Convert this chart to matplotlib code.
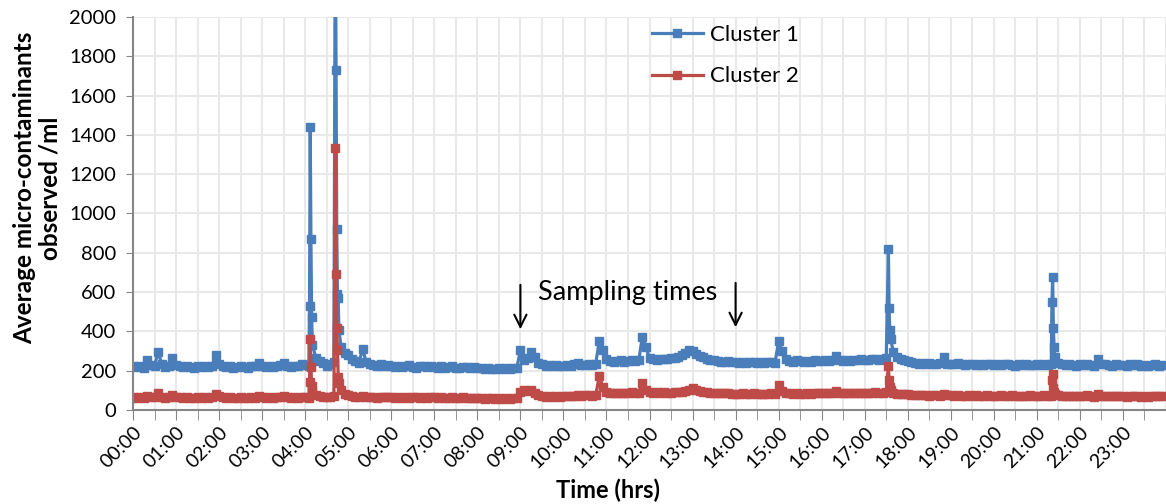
import matplotlib
matplotlib.use('Agg')
import matplotlib.pyplot as plt
from matplotlib.ticker import MultipleLocator, FixedLocator
import numpy as np

plt.rcParams['font.family'] = ['Lato', 'DejaVu Sans']

# 5-minute readings, one row per hour (00:00, 00:05, ... 00:55)
cluster1_rows = [
    [222, 218, 226, 215, 254, 228, 224, 297, 232, 220, 224, 263],
    [230, 222, 218, 225, 220, 216, 222, 219, 224, 218, 226, 280],
    [236, 222, 218, 224, 216, 221, 226, 219, 215, 222, 224, 238],
    [226, 219, 222, 218, 224, 229, 240, 222, 218, 224, 226, 232],
    [230, 225, 330, 265, 250, 240, 225, 232, 245, 590, 322, 290],
    [280, 262, 250, 240, 312, 244, 236, 228, 226, 232, 224, 228],
    [224, 220, 226, 218, 222, 228, 220, 216, 224, 222, 218, 225],
    [220, 216, 222, 214, 219, 224, 216, 212, 218, 221, 215, 217],
    [212, 216, 209, 214, 211, 207, 213, 210, 215, 208, 212, 214],
    [305, 254, 265, 297, 272, 240, 232, 226, 230, 224, 228, 222],
    [226, 230, 224, 232, 238, 228, 231, 235, 229, 236, 353, 305],
    [258, 250, 246, 248, 252, 246, 250, 254, 248, 252, 373, 319],
    [264, 258, 256, 260, 262, 258, 264, 266, 272, 280, 292, 306],
    [298, 286, 276, 268, 262, 256, 252, 250, 246, 244, 248, 242],
    [245, 240, 244, 238, 242, 246, 240, 244, 238, 242, 246, 240],
    [352, 298, 262, 250, 246, 252, 248, 244, 250, 246, 252, 248],
    [250, 254, 248, 252, 275, 252, 248, 254, 250, 256, 252, 258],
    [256, 252, 258, 262, 254, 260, 264, 407, 297, 268, 262, 256],
    [248, 242, 240, 236, 238, 234, 240, 236, 232, 238, 268, 236],
    [236, 232, 238, 234, 230, 236, 232, 228, 234, 230, 236, 232],
    [230, 234, 228, 232, 236, 230, 226, 232, 228, 234, 230, 228],
    [232, 228, 234, 230, 236, 271, 240, 232, 228, 234, 230, 226],
    [232, 228, 234, 230, 226, 262, 236, 232, 230, 226, 232, 228],
    [230, 226, 232, 228, 234, 226, 230, 224, 228, 232, 226, 230],
]
cluster2_rows = [
    [65, 62, 68, 60, 70, 66, 64, 85, 68, 63, 66, 75],
    [68, 64, 62, 66, 63, 60, 65, 62, 67, 61, 64, 81],
    [70, 64, 61, 66, 60, 63, 67, 62, 59, 64, 63, 70],
    [66, 62, 64, 61, 65, 67, 72, 64, 61, 66, 63, 68],
    [66, 62, 95, 78, 70, 66, 64, 68, 70, 305, 102, 80],
    [76, 70, 68, 66, 72, 67, 64, 66, 63, 68, 65, 64],
    [66, 62, 68, 63, 65, 61, 67, 64, 62, 66, 63, 65],
    [64, 61, 66, 60, 63, 65, 59, 62, 64, 60, 63, 61],
    [60, 62, 58, 61, 59, 56, 60, 58, 62, 57, 60, 62],
    [90, 100, 96, 102, 88, 76, 72, 68, 70, 66, 69, 67],
    [70, 73, 69, 72, 75, 71, 74, 76, 72, 75, 173, 119],
    [94, 88, 86, 84, 88, 85, 87, 90, 86, 89, 136, 102],
    [92, 88, 90, 87, 91, 89, 86, 90, 92, 94, 96, 104],
    [110, 100, 96, 92, 90, 88, 86, 88, 85, 84, 86, 83],
    [82, 80, 84, 79, 82, 85, 80, 83, 79, 82, 84, 80],
    [127, 98, 86, 84, 82, 86, 83, 80, 85, 82, 86, 84],
    [85, 88, 84, 86, 98, 88, 84, 87, 85, 89, 86, 88],
    [86, 84, 88, 90, 86, 89, 92, 119, 85, 82, 80, 79],
    [80, 78, 76, 74, 77, 75, 73, 76, 74, 72, 80, 75],
    [74, 72, 76, 73, 71, 75, 72, 74, 70, 73, 75, 72],
    [73, 71, 75, 72, 70, 74, 72, 69, 73, 71, 74, 72],
    [72, 70, 74, 71, 73, 80, 74, 71, 73, 70, 72, 71],
    [72, 70, 74, 71, 68, 80, 72, 70, 73, 69, 71, 70],
    [71, 68, 72, 69, 73, 67, 70, 68, 71, 69, 72, 70],
]

# 1-minute readings around the peaks: (time, cluster 1, cluster 2)
peak_times = ['04:06', '04:07', '04:08', '04:09', '04:10',
              '04:42', '04:43', '04:44', '04:45', '04:46', '04:47',
              '17:33', '17:34', '17:35', '17:36',
              '21:21', '21:22', '21:23', '21:24', '21:25']
peak_c1 = [530, 1440, 870, 475, 330,
           2650, 1730, 920, 590, 568, 407,
           818, 517, 407, 360,
           548, 679, 416, 322, 271]
peak_c2 = [140, 360, 220, 120, 95,
           1332, 690, 416, 305, 170, 137,
           224, 153, 119, 100,
           153, 183, 112, 90, 80]

# merge the two sets of readings
readings = {}
for h in range(24):
    for k in range(12):
        readings[h * 60 + k * 5] = (cluster1_rows[h][k], cluster2_rows[h][k])
for t, a, b in zip(peak_times, peak_c1, peak_c2):
    hh, mm = t.split(':')
    readings[int(hh) * 60 + int(mm)] = (a, b)
minutes = np.array(sorted(readings))
c1 = np.array([readings[m][0] for m in minutes])
c2 = np.array([readings[m][1] for m in minutes])

hour_labels = ['%02d:00' % h for h in range(24)]

fig = plt.figure(figsize=(11.66, 5.04), dpi=100)
ax = fig.add_axes([0.1141, 0.1865, 0.8859, 0.7798])

ax.plot(minutes, c1, color='#4a7ebb', lw=2.3, marker='s', ms=5.5, label='Cluster 1')
ax.plot(minutes, c2, color='#be4b48', lw=2.3, marker='s', ms=5.5, label='Cluster 2')

ax.set_xlim(0, 1440)
ax.set_ylim(0, 2000)
ax.yaxis.set_major_locator(MultipleLocator(200))
ax.xaxis.set_major_locator(FixedLocator(np.arange(24) * 60))
ax.xaxis.set_minor_locator(MultipleLocator(30))
ax.set_xticklabels(hour_labels, rotation=45, ha='right', va='top',
                   rotation_mode='anchor', fontsize=14)
ax.tick_params(axis='x', which='both', length=7, color='#868686', pad=3)
ax.tick_params(axis='y', length=5, color='#868686', labelsize=14.5, pad=7)

ax.grid(True, which='both', color='#e9e9e9', lw=1.5)
ax.set_axisbelow(True)
for s in ['top', 'right']:
    ax.spines[s].set_visible(False)
for s in ['left', 'bottom']:
    ax.spines[s].set_color('#868686')
    ax.spines[s].set_linewidth(1.5)

fig.text(608 / 1166, 14 / 504, 'Time (hrs)', ha='center', va='center',
         fontsize=17, fontweight='bold')
fig.text(0.032, 1 - 188 / 504, 'Average micro-contaminants\nobserved /ml',
         rotation=90, ha='center', va='center', multialignment='center',
         fontsize=17.5, fontweight='bold', linespacing=1.1)

# sampling markers
ax.annotate('', xy=(9 * 60, 397), xytext=(9 * 60, 651),
            arrowprops=dict(arrowstyle='->', lw=1.5, color='black', mutation_scale=22))
ax.annotate('', xy=(14 * 60, 407), xytext=(14 * 60, 661),
            arrowprops=dict(arrowstyle='->', lw=1.5, color='black', mutation_scale=22))
ax.text(689, 600, 'Sampling times', ha='center', va='center', fontsize=19.5)

ax.legend(loc='upper left', bbox_to_anchor=(0.559, 0.95), bbox_transform=fig.transFigure,
          frameon=False, fontsize=16, numpoints=1, handlelength=2.3, handletextpad=0.3,
          labelspacing=0.95, borderaxespad=0, borderpad=0)

fig.savefig('out.png', dpi=100)
